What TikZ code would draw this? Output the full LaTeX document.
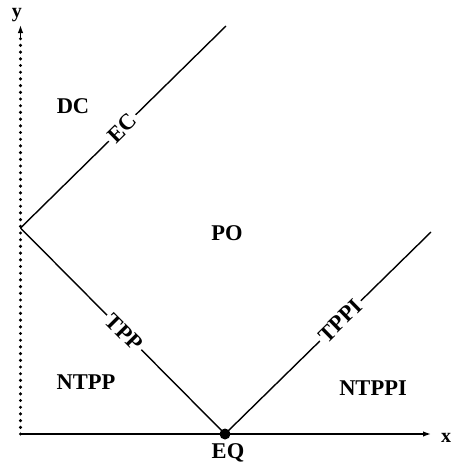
\documentclass[tikz,border=0pt]{standalone}
\usepackage{fontspec}
\setmainfont{Liberation Serif}
\usetikzlibrary{arrows.meta}
\begin{document}
\begin{tikzpicture}[x=1pt,y=-1pt,
  region/.style={font=\fontsize{22.5}{22.5}\selectfont\bfseries,inner sep=0pt},
  lab/.style={font=\fontsize{22.5}{22.5}\selectfont\bfseries,sloped,fill=white,inner sep=3pt},
  axlab/.style={font=\fontsize{20}{20}\selectfont\bfseries,inner sep=0pt},
  rel/.style={line width=1.4pt},
  dot/.style={fill=black},
  arr/.style={-{Latex[length=8pt,width=5.5pt]}}]
\useasboundingbox (0,0) rectangle (453,466);
\coordinate (O) at (20.5,434);
\coordinate (YT) at (20.5,25);
\coordinate (XT) at (431,434);
\coordinate (V) at (20.5,228);
\coordinate (U) at (226,26);
\coordinate (R) at (431,232);
\node[circle,fill=black,inner sep=0pt,minimum size=11pt] (EQd) at (225,434) {};
% axes
\foreach \k in {0,...,59} {\fill[dot] (20.5,434-6.7*\k) circle (1.7pt);}
\draw[line width=1.4pt,arr] (20.5,40) -- (YT);
\draw[line width=1.4pt,arr] (O) -- (XT);
\node[axlab] (ylab) at (17,15) {y};
\node[axlab] (xlab) at (446,438) {x};
% relation lines
\draw[rel] (V) -- node[lab,pos=0.495]{EC} (U);
\draw[rel] (V) -- node[lab,pos=0.507]{TPP} (EQd.center);
\draw[rel] (EQd.center) -- node[lab,pos=0.56]{TPPI} (R);
% regions
\node[region] (DC) at (73,106) {DC};
\node[region] (PO) at (227,233) {PO};
\node[region] (NTPP) at (86,382) {NTPP};
\node[region] (NTPPI) at (373,388) {NTPPI};
\node[region] (EQ) at (228,453) {EQ};
\end{tikzpicture}
\end{document}
